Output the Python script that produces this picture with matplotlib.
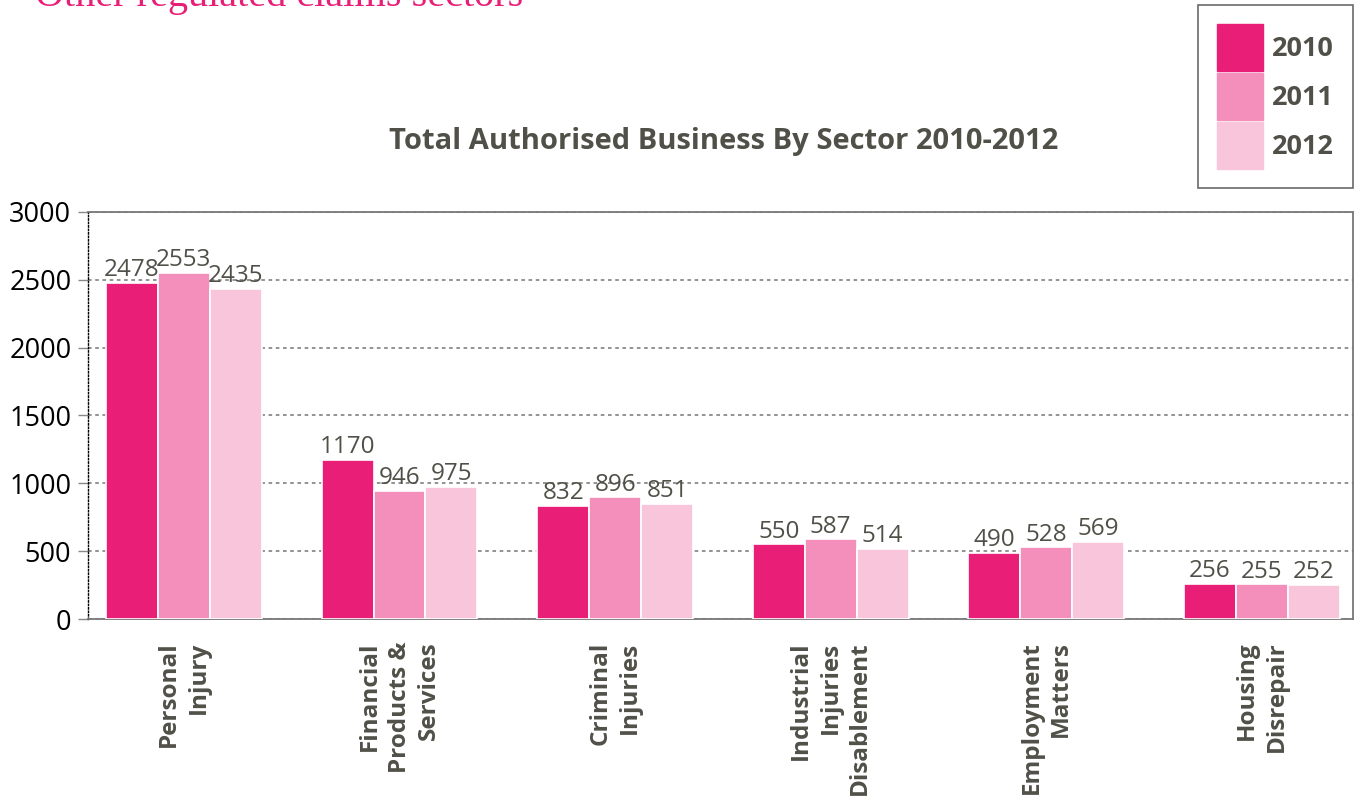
import matplotlib.pyplot as plt
import numpy as np

# Secteurs et valeurs par année
secteurs = ["Personal\nInjury", "Financial\nProducts &\nServices", "Criminal\nInjuries",
            "Industrial\nInjuries\nDisablement", "Employment\nMatters", "Housing\nDisrepair"]
annees = ["2010", "2011", "2012"]
v2010 = [2478, 1170, 832, 550, 490, 256]
v2011 = [2553, 946, 896, 587, 528, 255]
v2012 = [2435, 975, 851, 514, 569, 252]
graduations = [0, 500, 1000, 1500, 2000, 2500, 3000]

couleurs = ["#E81E77", "#F48EBA", "#F9C5DB"]
gris = "#505048"

plt.rcParams['font.family'] = ['Open Sans', 'DejaVu Sans']

fig = plt.figure(figsize=(13.55, 8), dpi=100)
ax = fig.add_axes([0.0649, 0.22625, 0.9336, 0.50875])

x = np.arange(len(secteurs))
largeur = 0.241
for i, (vals, c) in enumerate(zip([v2010, v2011, v2012], couleurs)):
    pos = x + (i - 1) * largeur
    ax.bar(pos, vals, width=largeur, color=c, edgecolor="white", linewidth=1.2, zorder=3)
    for p, v in zip(pos, vals):
        ax.text(p, v + 6, str(v), ha="center", va="bottom", fontsize=17.5,
                color=gris, zorder=4)

ax.set_xlim(-0.445, len(secteurs) - 1 + 0.422)
ax.set_ylim(0, 3000)
ax.set_yticks(graduations)
ax.set_yticklabels([str(g) for g in graduations], fontsize=19.5, color="black")
ax.tick_params(axis="y", length=7, width=1, color="#888888", pad=5)
ax.set_xticks([])
ax.grid(axis="y", linestyle=(0, (2, 2)), color="#8a8a8a", linewidth=1.3, zorder=0)

for cote in ["top", "right", "bottom"]:
    ax.spines[cote].set_linestyle((0, (1, 1)))
    ax.spines[cote].set_color("#777777")
    ax.spines[cote].set_linewidth(1.3)
ax.spines["left"].set_linestyle((0, (1, 1.5)))
ax.spines["left"].set_color("black")
ax.spines["left"].set_linewidth(1)

# Libellés des secteurs, verticaux sous l'axe
for xi, nom in zip(x, secteurs):
    ax.text(xi, -0.055, nom, transform=ax.get_xaxis_transform(), rotation=90,
            ha="center", va="top", multialignment="right", fontsize=17.5,
            fontweight="bold", color=gris, linespacing=1.3)

fig.text(0.534, 0.823, "Total Authorised Business By Sector 2010-2012", ha="center",
         va="center", fontsize=21, fontweight="bold", color=gris)

fig.text(0.026, 0.993, "Other regulated claims sectors", ha="left", va="baseline",
         fontsize=29, color="#E81E77", family="Liberation Serif")

# Légende
leg = ax.legend([plt.Rectangle((0, 0), 1, 1, color=c) for c in couleurs], annees,
                loc="upper right", bbox_to_anchor=(0.9985, 0.994), bbox_transform=fig.transFigure,
                prop={"weight": "bold", "size": 19.5}, frameon=True,
                fancybox=False, edgecolor="#444444", handlelength=1.7, handleheight=2.29,
                labelspacing=0.07, handletextpad=0.3, borderpad=0.72, borderaxespad=0)
for t in leg.get_texts():
    t.set_color(gris)
leg.get_frame().set_linewidth(1.2)

fig.savefig("out.png", dpi=100)
